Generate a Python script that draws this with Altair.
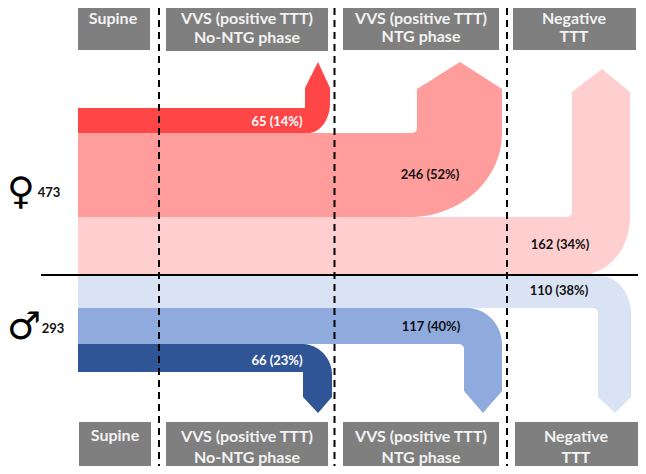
import math
import altair as alt
import pandas as pd

# flow labels and colours
FLOW_NAMES = ["F1", "F2", "F3", "M1", "M2", "M3"]
FLOW_COLORS = ["#ff4646", "#ff9c9c", "#ffcfcf", "#dae3f3", "#8faadc", "#2f5597"]
# band edges
FLOW_INNER = [108, 133, 217, 308, 344, 372]
FLOW_OUTER = [133, 217, 275, 276, 308, 344]
FLOW_TURN = [305, 417, 572, 598, 464, 303]
FLOW_FILLET = [0, 5, 5, 5, 5, 0]
FLOW_SHOULDER = [88, 89, 92, 397, 391, 397]
FLOW_TIP_X = [318, 460, 602, 615, 483, 318]
FLOW_TIP_Y = [62, 62, 69, 413, 413, 413]
FLOW_RIGHT = [330, 502, 630, 631, 502, 332]
FLOW_ARC_X = [308, 410, 580, 600, 467, 302]
FLOW_ARC_Y = [103, 133, 217, 314, 345, 375]
FLOW_START = 78

# headers
HEAD_LABELS = ["Supine", "VVS (positive TTT)", "No-NTG phase", "VVS (positive TTT)", "NTG phase", "Negative", "TTT"]
HEAD_X = [113, 247, 247, 421, 421, 574, 574]
HEAD_Y = [19, 19, 38, 19, 37, 19, 37]
FOOT_X = [115, 247, 247, 421, 421, 576, 576]
FOOT_Y = [436, 437, 458, 437, 458, 437, 458]
BOX_X = [78, 166, 343, 513, 79, 166, 343, 515]
BOX_X2 = [150, 328, 499, 636, 151, 328, 499, 638]
BOX_Y = [2, 3, 3, 3, 422, 422, 422, 422]
BOX_Y2 = [50, 51, 50, 50, 470, 470, 470, 470]

# flow labels
DARK_LABELS = ["246 (52%)", "162 (34%)", "110 (38%)", "117 (40%)"]
DARK_X = [430, 560, 559, 431]
DARK_Y = [175, 245, 291, 327]
LIGHT_LABELS = ["65 (14%)", "66 (23%)"]
LIGHT_X = [277, 277]
LIGHT_Y = [122, 361]
TOTAL_LABELS = ["473", "293"]
TOTAL_X = [49, 53]
TOTAL_Y = [193, 329]
SYMBOLS = ["\u2640", "\u2642"]
SYMBOL_X = [21, 24]
SYMBOL_Y = [193, 328]

DASH_X = [159, 334.5, 507]
DASH_TOP = 0
DASH_BOTTOM = 470
LINE_Y = 275
LINE_X = [41, 645]


def outline(k):
    yi, yo, xj, f = FLOW_INNER[k], FLOW_OUTER[k], FLOW_TURN[k], FLOW_FILLET[k]
    ya, xp, yp, xr = FLOW_SHOULDER[k], FLOW_TIP_X[k], FLOW_TIP_Y[k], FLOW_RIGHT[k]
    xs, yc = FLOW_ARC_X[k], FLOW_ARC_Y[k]
    d = 1 if ya > yi else -1
    rx = xr - xs

    def outer(x):
        if x <= xs:
            return yo
        u = min(1.0, (x - xs) / rx)
        return yc + (yo - yc) * math.sqrt(1 - u * u)

    def inner_before(x):
        if f == 0 or x <= xj - f:
            return yi
        u = min(1.0, (x - (xj - f)) / f)
        return yi + d * f * (1 - math.sqrt(1 - u * u))

    def inner_after(x):
        if x <= xp:
            return ya + (yp - ya) * (x - xj) / (xp - xj)
        return yp + (ya - yp) * (x - xp) / (xr - xp)

    xs_all = {float(FLOW_START), float(xj), float(xp), float(xr), float(xs)}
    for i in range(1, 24):
        t = i / 24 * math.pi / 2
        xs_all.add(xs + rx * math.sin(t))
    if f:
        for i in range(0, 7):
            xs_all.add(xj - f + f * math.sin(i / 6 * math.pi / 2))
    rows = []
    for x in sorted(xs_all):
        if x <= xj:
            rows.append((x, inner_before(x), outer(x)))
        if x >= xj:
            rows.append((x, inner_after(x), outer(x)))
    return [{"flow": FLOW_NAMES[k], "x": r[0], "y": r[1], "y2": r[2]} for r in rows]


flows = pd.DataFrame([row for k in range(6) for row in outline(k)])

W, H = 630, 458
xs = alt.Scale(domain=[8, 638], clamp=True)
ys = alt.Scale(domain=[466, 8], clamp=True)


def X(f="x"):
    return alt.X(f"{f}:Q", scale=xs, axis=None)


def Y(f="y"):
    return alt.Y(f"{f}:Q", scale=ys, axis=None)


FONT = "Lato"

area = alt.Chart(flows).mark_area(interpolate="linear").encode(
    x=X(),
    y=Y(),
    y2="y2:Q",
    color=alt.Color("flow:N", scale=alt.Scale(domain=FLOW_NAMES, range=FLOW_COLORS), legend=None),
)

boxes = alt.Chart(pd.DataFrame({"x": BOX_X, "x2": BOX_X2, "y": BOX_Y, "y2": BOX_Y2})).mark_rect(color="#7f7f7f").encode(
    x=X(), x2="x2:Q", y=Y(), y2="y2:Q"
)

dashes = alt.Chart(pd.DataFrame({"x": DASH_X, "y": [DASH_TOP] * 3, "y2": [DASH_BOTTOM] * 3})).mark_rule(
    color="black", strokeWidth=2, strokeDash=[7, 5]
).encode(x=X(), y=Y(), y2="y2:Q")

hline = alt.Chart(pd.DataFrame({"x": [LINE_X[0]], "x2": [LINE_X[1]], "y": [LINE_Y]})).mark_rule(
    color="black", strokeWidth=2
).encode(x=X(), x2="x2:Q", y=Y())


def texts(labels, x, y, color, size, font=FONT, weight="bold"):
    return alt.Chart(pd.DataFrame({"t": labels, "x": x, "y": y})).mark_text(
        color=color, fontSize=size, font=font, fontWeight=weight, align="center", baseline="middle"
    ).encode(x=X(), y=Y(), text="t:N")


chart = alt.layer(
    area,
    boxes,
    hline,
    dashes,
    texts(HEAD_LABELS, HEAD_X, HEAD_Y, "#f2f2f2", 16),
    texts(HEAD_LABELS, FOOT_X, FOOT_Y, "#f2f2f2", 16),
    texts(DARK_LABELS, DARK_X, DARK_Y, "#111111", 13),
    texts(LIGHT_LABELS, LIGHT_X, LIGHT_Y, "#ffffff", 13),
    texts(TOTAL_LABELS, TOTAL_X, TOTAL_Y, "#111111", 13),
    texts(SYMBOLS, SYMBOL_X, SYMBOL_Y, "black", 38, font="DejaVu Sans", weight="normal"),
).properties(
    width=W,
    height=H,
    padding=0,
    autosize=alt.AutoSizeParams(type="none"),
).configure_view(stroke=None)

chart.save("out.html", embed_options={"renderer": "svg", "actions": False})
